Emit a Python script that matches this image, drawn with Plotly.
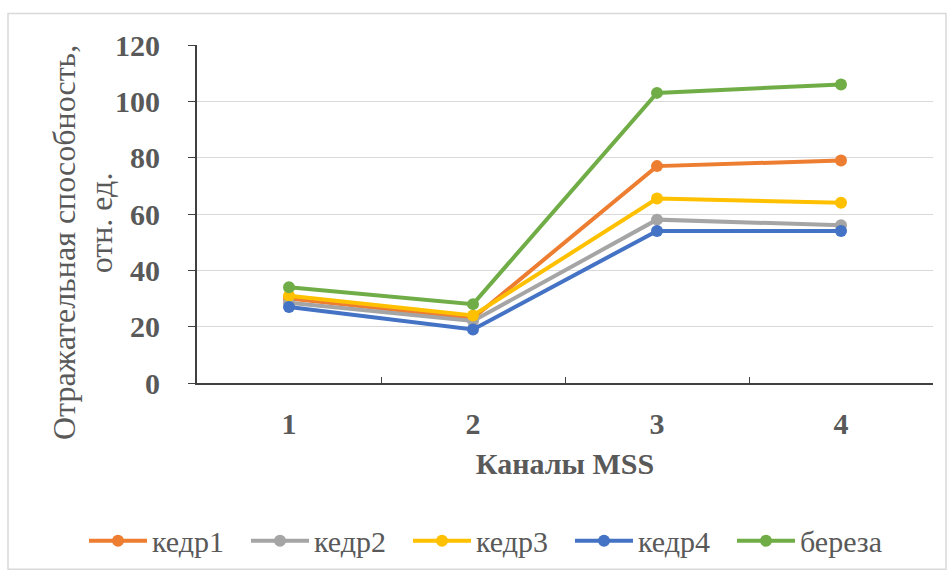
import plotly.graph_objects as go

channels = ["1", "2", "3", "4"]
series_names = ["кедр1", "кедр2", "кедр3", "кедр4", "береза"]
kedr1 = [30, 23, 77, 79]
kedr2 = [28.5, 22, 58, 56]
kedr3 = [31, 24, 65.5, 64]
kedr4 = [27, 19, 54, 54]
bereza = [34, 28, 103, 106]
colors = ["#ED7D31", "#A5A5A5", "#FFC000", "#4472C4", "#70AD47"]
y_ticks = [0, 20, 40, 60, 80, 100, 120]
y_title_lines = ["Отражательная способность,", "отн. ед."]

values = [kedr1, kedr2, kedr3, kedr4, bereza]

fig = go.Figure()
for name, vals, col in zip(series_names, values, colors):
    fig.add_trace(go.Scatter(
        x=channels, y=vals, name=name, mode="lines+markers",
        line=dict(color=col, width=4),
        marker=dict(color=col, size=12),
    ))

FF = "Liberation Serif"
L, R, T, B = 197, 17, 45, 191
PW = 950 - L - R
PH = 579 - T - B

fig.update_layout(
    width=950, height=579,
    margin=dict(l=L, r=R, t=T, b=B),
    paper_bgcolor="white", plot_bgcolor="white",
    font=dict(family=FF, color="#595959", size=30),
    showlegend=True,
    legend=dict(
        orientation="h", x=(84 - L) / PW, xanchor="left",
        y=-(548 - 388) / PH, yanchor="middle",
        font=dict(size=30, color="#595959", family=FF),
        entrywidth=89, entrywidthmode="pixels",
        itemwidth=58,
    ),
    xaxis=dict(
        type="category", range=[-0.5, 3.5],
        showgrid=False,
        showline=True, linecolor="#404040", linewidth=2,
        ticks="inside", tickson="boundaries", ticklen=6, tickcolor="#404040",
        tickfont=dict(size=30, color="#595959", family=FF, weight="bold"),
        ticklabelstandoff=13,
        title=dict(text="Каналы MSS", font=dict(size=30, color="#595959", family=FF, weight="bold"),
                   standoff=14),
        fixedrange=True,
    ),
    yaxis=dict(
        range=[0, 120], tickvals=y_ticks,
        showgrid=True, gridcolor="#D9D9D9", gridwidth=1,
        showline=True, linecolor="#404040", linewidth=2,
        ticks="outside", ticklen=7, tickcolor="#404040",
        tickfont=dict(size=30, color="#595959", family=FF, weight="bold"),
        ticklabelstandoff=22,
        zeroline=False,
        fixedrange=True,
    ),
)

for txt, xc, yc in zip(y_title_lines, [64, 101], [246, 226]):
    fig.add_annotation(
        text=txt, xref="paper", yref="paper",
        x=(xc - L) / PW, y=(388 - yc) / PH, xanchor="center", yanchor="middle",
        textangle=-90, showarrow=False,
        font=dict(size=32, color="#595959", family=FF),
    )

# chart border
fig.add_shape(
    type="rect", xref="paper", yref="paper",
    x0=(8 - L) / PW, x1=(946 - L) / PW,
    y0=(388 - 577) / PH, y1=(388 - 13) / PH,
    line=dict(color="#D9D9D9", width=1.5), fillcolor="rgba(0,0,0,0)", layer="below",
)

fig.write_html("out.html")
